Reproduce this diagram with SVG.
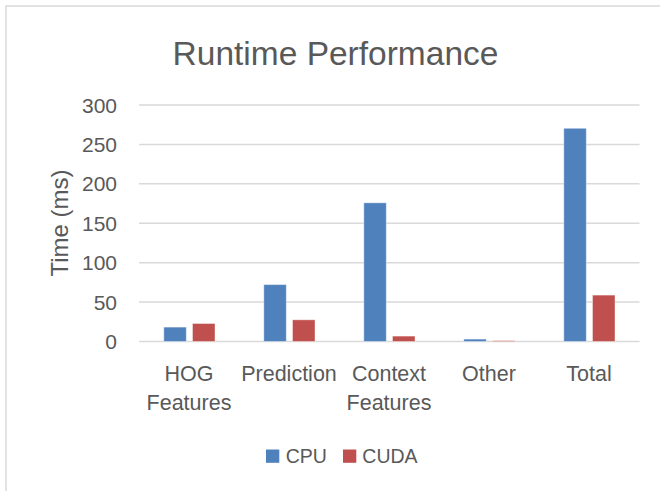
<svg xmlns="http://www.w3.org/2000/svg" width="660" height="491" viewBox="0 0 660 491">
<style>
  text { font-family: "Liberation Sans", Arial, sans-serif; fill: #595959; }
  .grid { stroke: #d9d9d9; stroke-width: 1.5; }
  .tick { font-size: 21px; text-anchor: end; }
  .cat { font-size: 21.5px; text-anchor: middle; }
  .cpu { fill: #4f81bd; stroke: #ffffff; stroke-opacity: 0.4; stroke-width: 1; }
  .cuda { fill: #c0504d; stroke: #ffffff; stroke-opacity: 0.4; stroke-width: 1; }
  .leg { font-size: 19.5px; }
</style>
<rect x="0" y="0" width="660" height="491" fill="#ffffff"/>
<rect x="6" y="6" width="720" height="620" fill="none" stroke="#d9d9d9" stroke-width="1.5"/>
<g id="title"><text x="335.5" y="65" font-size="33.5" text-anchor="middle">Runtime Performance</text></g>
<g id="gridlines">
  <line class="grid" x1="139" y1="341.5" x2="639.5" y2="341.5"/>
  <line class="grid" x1="139" y1="302.1" x2="639.5" y2="302.1"/>
  <line class="grid" x1="139" y1="262.7" x2="639.5" y2="262.7"/>
  <line class="grid" x1="139" y1="223.3" x2="639.5" y2="223.3"/>
  <line class="grid" x1="139" y1="183.8" x2="639.5" y2="183.8"/>
  <line class="grid" x1="139" y1="144.4" x2="639.5" y2="144.4"/>
  <line class="grid" x1="139" y1="105" x2="639.5" y2="105"/>
</g>
<g id="y-axis">
  <text class="tick" x="117" y="349">0</text>
  <text class="tick" x="117" y="309.6">50</text>
  <text class="tick" x="117" y="270.2">100</text>
  <text class="tick" x="117" y="230.8">150</text>
  <text class="tick" x="117" y="191.3">200</text>
  <text class="tick" x="117" y="151.9">250</text>
  <text class="tick" x="117" y="112.5">300</text>
  <text font-size="24" text-anchor="middle" transform="translate(68,223) rotate(-90)">Time (ms)</text>
</g>
<g id="bars">
  <rect class="cpu" x="163.8" y="327.1" width="22.5" height="14.4"/>
  <rect class="cuda" x="192.5" y="323.5" width="22.5" height="18"/>
  <rect class="cpu" x="263.8" y="284.6" width="22.5" height="56.9"/>
  <rect class="cuda" x="292.5" y="319.8" width="22.5" height="21.7"/>
  <rect class="cpu" x="363.8" y="202.8" width="22.5" height="138.7"/>
  <rect class="cuda" x="392.5" y="336.1" width="22.5" height="5.4"/>
  <rect class="cpu" x="463.8" y="339.1" width="22.5" height="2.4"/>
  <rect class="cuda" x="492.5" y="340.7" width="22.5" height="0.8"/>
  <rect class="cpu" x="563.8" y="128.3" width="22.5" height="213.2"/>
  <rect class="cuda" x="592.5" y="295.1" width="22.5" height="46.4"/>
</g>
<g id="x-axis">
  <text class="cat" x="189" y="381">HOG</text>
  <text class="cat" x="189" y="410">Features</text>
  <text class="cat" x="289" y="381">Prediction</text>
  <text class="cat" x="389" y="381">Context</text>
  <text class="cat" x="389" y="410">Features</text>
  <text class="cat" x="489" y="381">Other</text>
  <text class="cat" x="589" y="381">Total</text>
</g>
<g id="legend">
  <rect x="266" y="449.5" width="13.3" height="13.3" fill="#4f81bd"/>
  <text class="leg" x="285.7" y="463.3">CPU</text>
  <rect x="343" y="449.5" width="13.3" height="13.3" fill="#c0504d"/>
  <text class="leg" x="362.3" y="463.3">CUDA</text>
</g>
</svg>
